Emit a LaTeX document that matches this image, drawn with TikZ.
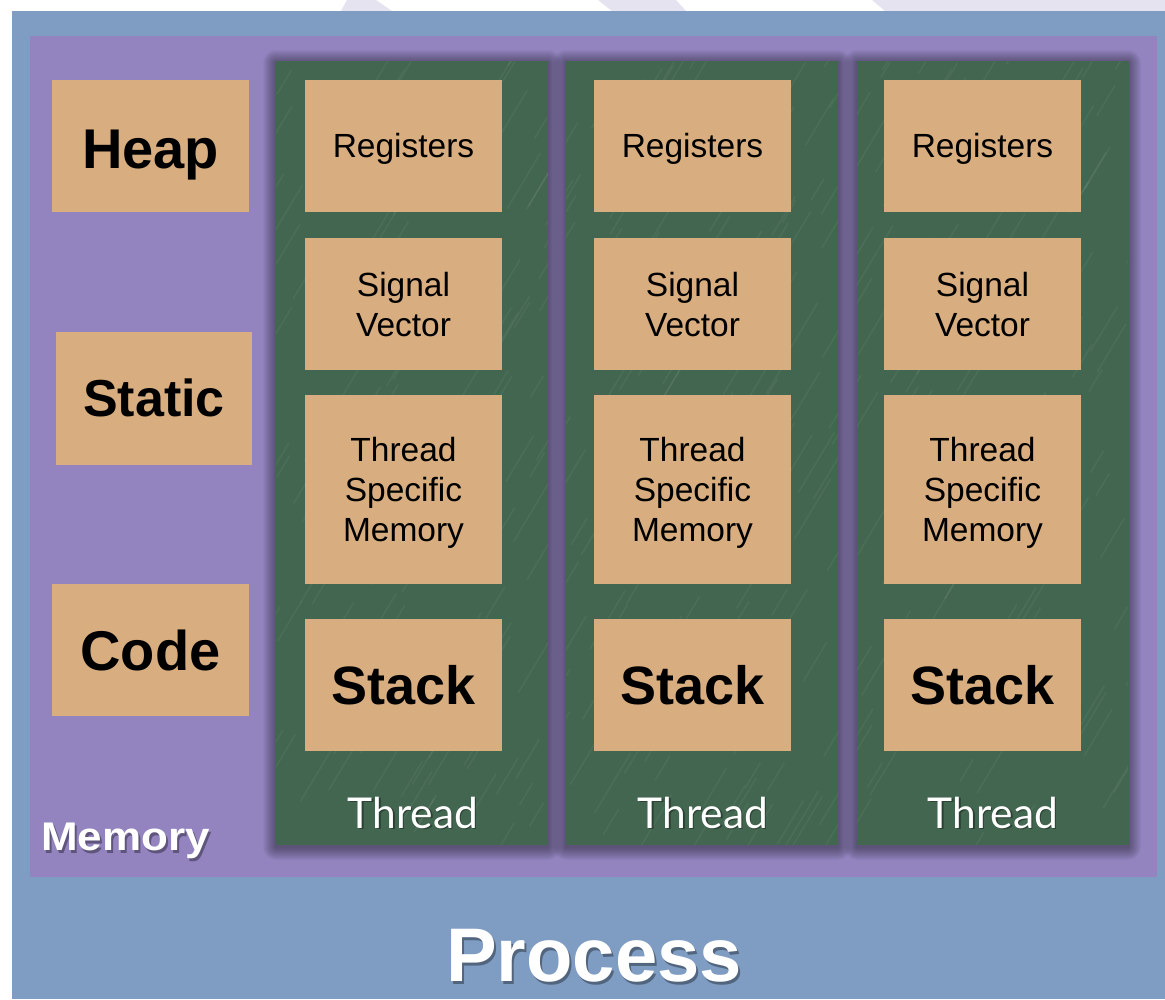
\documentclass[tikz,border=0pt]{standalone}
\usepackage{fontspec}
\setmainfont{Liberation Sans}
\newfontfamily\threadfont{Lato}
\definecolor{procblue}{HTML}{7F9CC2}
\definecolor{mempurple}{HTML}{9384BF}
\definecolor{thrgreen}{HTML}{42664F}
\definecolor{tanbox}{HTML}{D8AE80}
\definecolor{lav}{HTML}{E6E3F0}
\tikzset{
  region/.style={draw=none, inner sep=0pt, outer sep=0pt},
  column/.style={region, fill=thrgreen, minimum width=272pt, minimum height=784pt},
  tanbase/.style={fill=tanbox, draw=none, inner sep=0pt, outer sep=0pt, align=center, text=black},
  smallbox/.style={tanbase, minimum width=197pt, minimum height=132pt,
    font=\fontsize{33.5}{40}\selectfont},
  bigbox/.style={tanbase, minimum width=197pt, minimum height=132pt},
  whitelabel/.style={inner sep=0pt, text=white},
  shadowlabel/.style={inner sep=0pt, text=black, opacity=0.35},
  softlayer/.style={fill=black, opacity=0.032},
}
\newcommand{\mysoftshadow}[4]{%
  \foreach \k in {1,...,13}{%
    \fill[softlayer, rounded corners=\k pt] (#1-\k,#2-\k+2) rectangle (#3+\k,#4+\k+2);}}
% place text so that its (last) baseline lies #1 below the node centre
\newcommand{\basedrop}[2]{\raisebox{-#1}[0pt][0pt]{#2}}
\newcommand{\linesb}[1]{\begin{tabular}[b]{@{}c@{}}#1\end{tabular}}
\begin{document}
\begin{tikzpicture}[x=1pt,y=-1pt]
\useasboundingbox (0,0) rectangle (1165,999);
\fill[white] (0,0) rectangle (1165,999);
% light background stripes at the top
\fill[lav] (347,0) -- (376,0) -- (392,11) -- (341,11) -- cycle;
\fill[lav] (598,0) -- (676,0) -- (686,11) -- (612,11) -- cycle;
\fill[lav] (872,0) -- (1165,0) -- (1165,11) -- (885,11) -- cycle;
% process
\node[region, fill=procblue, minimum width=1153pt, minimum height=988pt] (process) at (588.5,505) {};
% memory
\node[region, fill=mempurple, minimum width=1127pt, minimum height=841pt] (memory) at (593.5,456.5) {};
% soft shadows of the thread columns
\begin{scope}
  \clip (30,36) rectangle (1157,877);
  \mysoftshadow{276}{61}{548}{845}
  \mysoftshadow{566}{61}{838}{845}
  \mysoftshadow{857}{61}{1128}{845}
\end{scope}
% thread columns
\node[column] (thr1) at (412,453) {};
\node[column] (thr2) at (702,453) {};
\node[column] (thr3) at (992.5,453) {};
% faint streak texture on the columns
\begin{scope}
  \clip (276,61) rectangle (548,845) (566,61) rectangle (838,845) (857,61) rectangle (1128,845);
  \pgfmathsetseed{7}
  \foreach \n in {1,...,420} {
    \pgfmathsetmacro\sx{260+880*rnd}
    \pgfmathsetmacro\sy{55+800*rnd}
    \pgfmathsetmacro\sl{20+40*rnd}
    \draw[white, opacity=0.05, line width=1.6pt] (\sx,\sy) -- ++(0.6*\sl,-\sl);
  }
\end{scope}
% memory boxes
\node[bigbox, font=\fontsize{56}{60}\selectfont\bfseries] (heap) at (150.5,146) {\basedrop{22pt}{Heap}};
\node[bigbox, minimum width=196pt, minimum height=133pt, font=\fontsize{52}{60}\selectfont\bfseries] (static) at (154,398.5) {\basedrop{18pt}{Static}};
\node[bigbox, font=\fontsize{56}{60}\selectfont\bfseries] (code) at (150.5,650) {\basedrop{20pt}{Code}};
% thread boxes
\foreach \i/\bx/\gx in {1/403.5/413, 2/692.5/703, 3/982.5/993} {
  \node[smallbox] (reg\i) at (\bx,146) {\basedrop{11.7pt}{Registers}};
  \node[smallbox] (sig\i) at (\bx,304) {\basedrop{32.7pt}{\linesb{Signal\\Vector}}};
  \node[smallbox, minimum height=189pt] (tsm\i) at (\bx,489.5) {\basedrop{52pt}{\linesb{Thread\\Specific\\Memory}}};
  \node[bigbox, font=\fontsize{54}{60}\selectfont\bfseries] (stack\i) at (\bx,685) {\basedrop{19pt}{Stack}};
  \node[shadowlabel, anchor=base, font=\threadfont\fontsize{42.5}{45}\selectfont] (thrlabs\i) at (\gx+1.5,829.5) {Thread};
  \node[whitelabel, anchor=base, font=\threadfont\fontsize{42.5}{45}\selectfont] (thrlab\i) at (\gx,828) {Thread};
}
% labels
\node[shadowlabel, anchor=base west, font=\fontsize{40}{40}\selectfont\bfseries] (memlabels) at (43,853) {\scalebox{1.1}[1]{Memory}};
\node[whitelabel, anchor=base west, font=\fontsize{40}{40}\selectfont\bfseries] (memlabel) at (41,850) {\scalebox{1.1}[1]{Memory}};
\node[shadowlabel, anchor=base, font=\fontsize{76}{80}\selectfont\bfseries] (proclabels) at (596,984) {Process};
\node[whitelabel, anchor=base, font=\fontsize{76}{80}\selectfont\bfseries] (proclabel) at (594,981) {Process};
\end{tikzpicture}
\end{document}
